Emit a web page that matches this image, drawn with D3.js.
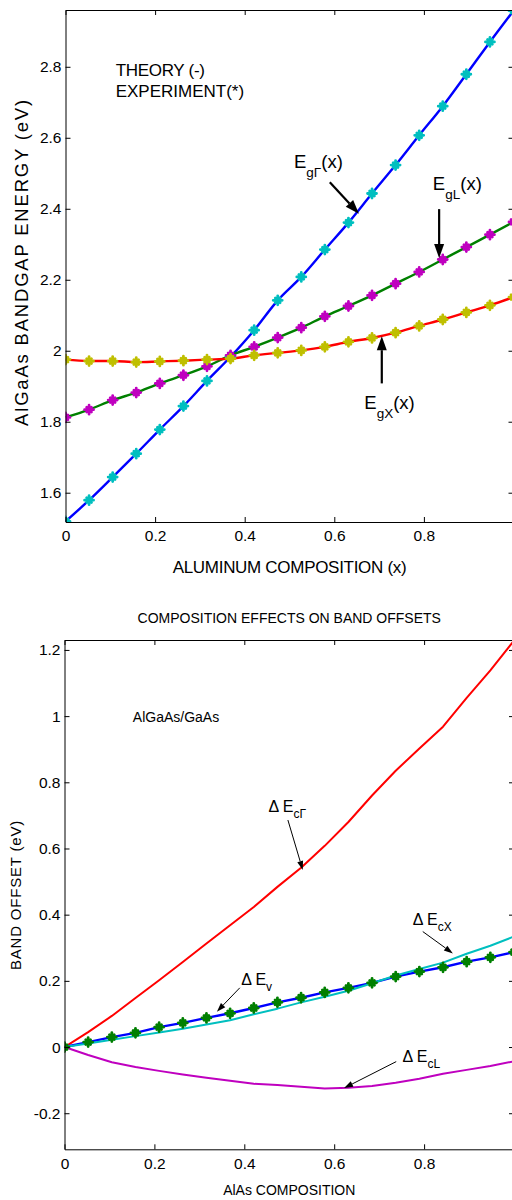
<!DOCTYPE html>
<html>
<head>
<meta charset="utf-8">
<script src="https://cdn.jsdelivr.net/npm/d3@7/dist/d3.min.js"></script>
<style>
    body { margin: 0; background: #fff; }
    svg { display: block; font-family: "Liberation Sans", Arial, sans-serif; }
</style>
</head>
<body>
<script>
// Al fraction at which theory and experiment were sampled (k/19)
let composition = [0, 0.0526, 0.1053, 0.1579, 0.2105, 0.2632, 0.3158, 0.3684, 0.4211, 0.4737,
                   0.5263, 0.5789, 0.6316, 0.6842, 0.7368, 0.7895, 0.8421, 0.8947, 0.9474, 1];

// top panel: bandgaps (eV)
let egGamma = [1.519, 1.579, 1.644, 1.710, 1.778, 1.844, 1.915, 1.983, 2.058, 2.142,
               2.208, 2.285, 2.361, 2.443, 2.523, 2.607, 2.689, 2.779, 2.870, 2.958];
let egL = [1.812, 1.834, 1.861, 1.882, 1.908, 1.931, 1.956, 1.987, 2.011, 2.037,
           2.065, 2.097, 2.126, 2.156, 2.189, 2.222, 2.257, 2.292, 2.327, 2.363];
let egX = [1.975, 1.971, 1.971, 1.968, 1.970, 1.972, 1.975, 1.978, 1.987, 1.994,
           2.001, 2.011, 2.025, 2.036, 2.051, 2.070, 2.088, 2.108, 2.128, 2.151];

// bottom panel: band offsets (eV)
let dEcGamma = [0, 0.045, 0.094, 0.148, 0.202, 0.257, 0.313, 0.368, 0.423, 0.484,
                0.542, 0.608, 0.680, 0.760, 0.835, 0.902, 0.968, 1.055, 1.138, 1.228];
let dEcX = [0, 0.011, 0.022, 0.033, 0.044, 0.055, 0.068, 0.081, 0.099, 0.116,
            0.135, 0.152, 0.170, 0.193, 0.216, 0.236, 0.255, 0.282, 0.306, 0.334];
let dEcL = [0, -0.024, -0.046, -0.060, -0.072, -0.083, -0.093, -0.102, -0.111, -0.115,
            -0.120, -0.125, -0.123, -0.118, -0.108, -0.096, -0.081, -0.069, -0.057, -0.043];
let dEv = [0, 0.015, 0.030, 0.043, 0.060, 0.073, 0.088, 0.102, 0.118, 0.135,
           0.149, 0.165, 0.179, 0.194, 0.213, 0.228, 0.241, 0.258, 0.271, 0.287];

let compTicks = [0, 0.2, 0.4, 0.6, 0.8];
let bandgapTicks = [1.6, 1.8, 2, 2.2, 2.4, 2.6, 2.8];
let offsetTicks = [-0.2, 0, 0.2, 0.4, 0.6, 0.8, 1, 1.2];

(function() {
    'use strict';

    let width = 512;
    let height = 1200;
    let tickFont = 15.5;

    let svg = d3.select("body").append("svg")
        .attr("width", width)
        .attr("height", height);

    // fat '*' marker: long plus arms, short diagonals
    let starPath = "M-4.5,0H4.5M0,-4.5V4.5M-2.4,-2.4L2.4,2.4M-2.4,2.4L2.4,-2.4";

    function fmt(d) { return String(+d.toFixed(1)); }

    function styleAxis(g, size) {
        g.attr("font-size", null).attr("font-family", null);
        g.selectAll("text").attr("font-size", size).attr("fill", "#000");
        g.selectAll("line, path").attr("stroke", "#000");
    }

    function drawFrame(g, x, y, yTicks, xPad) {
        let [x0, x1] = x.range();
        let [y0, y1] = y.range();

        g.append("g").attr("transform", "translate(0," + y0 + ")")
            .call(d3.axisBottom(x).tickValues(compTicks).tickSizeInner(-5).tickSizeOuter(0)
                  .tickPadding(xPad).tickFormat(fmt))
            .call(styleAxis, tickFont);
        g.append("g").attr("transform", "translate(0," + y1 + ")")
            .call(d3.axisTop(x).tickValues(compTicks).tickSizeInner(-5).tickSizeOuter(0).tickFormat(""))
            .call(styleAxis, tickFont);
        g.append("g").attr("transform", "translate(" + x0 + ",0)")
            .call(d3.axisLeft(y).tickValues(yTicks).tickSizeInner(-5).tickSizeOuter(0)
                  .tickPadding(4).tickFormat(fmt))
            .call(styleAxis, tickFont);
        g.append("g").attr("transform", "translate(" + x1 + ",0)")
            .call(d3.axisRight(y).tickValues(yTicks).tickSizeInner(-5).tickSizeOuter(0).tickFormat(""))
            .call(styleAxis, tickFont);
    }

    function addClip(id, x, y) {
        let [x0, x1] = x.range();
        let [y0, y1] = y.range();
        svg.append("clipPath").attr("id", id)
            .append("rect")
            .attr("x", x0).attr("y", y1)
            .attr("width", x1 - x0).attr("height", y0 - y1);
    }

    function drawLine(g, x, y, values, color, w, curve) {
        let line = d3.line()
            .x(function(d, i) { return x(composition[i]); })
            .y(function(d) { return y(d); })
            .curve(curve);
        g.append("path")
            .datum(values)
            .attr("d", line)
            .attr("fill", "none")
            .attr("stroke", color)
            .attr("stroke-width", w)
            .attr("stroke-linejoin", "round");
    }

    function drawStars(g, x, y, values, color) {
        g.append("g").selectAll("path")
            .data(values)
            .enter()
            .append("path")
            .attr("transform", function(d, i) {
                return "translate(" + x(composition[i]) + "," + y(d) + ")";
            })
            .attr("d", starPath)
            .attr("fill", "none")
            .attr("stroke", color)
            .attr("stroke-width", 2.8)
            .attr("stroke-linecap", "round");
    }

    function arrow(g, xa, ya, xb, yb, w, headLen, headW) {
        let dx = xb - xa, dy = yb - ya;
        let len = Math.sqrt(dx * dx + dy * dy);
        let ux = dx / len, uy = dy / len;
        let bx = xb - ux * headLen, by = yb - uy * headLen;
        g.append("line")
            .attr("x1", xa).attr("y1", ya)
            .attr("x2", bx).attr("y2", by)
            .attr("stroke", "#000").attr("stroke-width", w);
        g.append("path")
            .attr("d", "M" + xb + "," + yb +
                       "L" + (bx - uy * headW / 2) + "," + (by + ux * headW / 2) +
                       "L" + (bx + uy * headW / 2) + "," + (by - ux * headW / 2) + "Z")
            .attr("fill", "#000");
    }

    // label like E_sub(x) or Δ E_sub
    function subLabel(g, px, py, main, sub, tail, size, subSize, drop) {
        let t = g.append("text")
            .attr("x", px).attr("y", py)
            .attr("font-size", size)
            .attr("fill", "#000");
        t.append("tspan").text(main);
        t.append("tspan").attr("font-size", subSize).attr("dy", drop).text(sub);
        if (tail) t.append("tspan").attr("dy", -drop).text(tail);
    }

    // ---------------- top panel ----------------
    let x1 = d3.scaleLinear().domain([0, 1]).range([65.5, 513.5]);
    let y1 = d3.scaleLinear().domain([1.5175, 2.96]).range([522, 10]);
    addClip("clipTop", x1, y1);

    let top = svg.append("g");
    let topData = top.append("g").attr("clip-path", "url(#clipTop)");
    drawLine(topData, x1, y1, egGamma, "#0000ff", 2.4, d3.curveMonotoneX);
    drawLine(topData, x1, y1, egL, "#008000", 2.4, d3.curveMonotoneX);
    drawLine(topData, x1, y1, egX, "#ff0000", 2.4, d3.curveMonotoneX);
    drawStars(topData, x1, y1, egGamma, "#00bfbf");
    drawStars(topData, x1, y1, egL, "#bf00bf");
    drawStars(topData, x1, y1, egX, "#bfbf00");
    drawFrame(top, x1, y1, bandgapTicks, 7.5);

    top.append("text").attr("x", x1(0.112)).attr("y", y1(2.773))
        .attr("font-size", 17).attr("letter-spacing", -0.3).text("THEORY (-)");
    top.append("text").attr("x", x1(0.112)).attr("y", y1(2.714))
        .attr("font-size", 17).text("EXPERIMENT(*)");

    subLabel(top, x1(0.510), y1(2.514), "E", "gΓ", "(x)", 18.5, 13.5, 9);
    arrow(top, x1(0.590), y1(2.475), x1(0.655), y1(2.386), 2.2, 14, 10);
    subLabel(top, x1(0.820), y1(2.452), "E", "gL", "(x)", 18.5, 13.5, 9);
    arrow(top, x1(0.834), y1(2.399), x1(0.834), y1(2.261), 2.2, 14, 10);
    subLabel(top, x1(0.667), y1(1.835), "E", "gX", "(x)", 18.5, 13.5, 9);
    arrow(top, x1(0.706), y1(1.908), x1(0.706), y1(2.041), 2.2, 14, 10);

    top.append("text")
        .attr("x", (65.5 + 513.5) / 2).attr("y", 573)
        .attr("text-anchor", "middle")
        .attr("font-size", 17).attr("letter-spacing", -0.3)
        .text("ALUMINUM COMPOSITION (x)");
    top.append("text")
        .attr("transform", "translate(28," + 262 + ")rotate(-90)")
        .attr("text-anchor", "middle")
        .attr("font-size", 18.5).attr("letter-spacing", 1.8)
        .text("AlGaAs BANDGAP ENERGY (eV)");

    // ---------------- bottom panel ----------------
    let x2 = d3.scaleLinear().domain([0, 1]).range([64.5, 514]);
    let y2 = d3.scaleLinear().domain([-0.309, 1.23]).range([1149.3, 640]);
    addClip("clipBottom", x2, y2);

    let bot = svg.append("g");
    let botData = bot.append("g").attr("clip-path", "url(#clipBottom)");
    drawLine(botData, x2, y2, dEcGamma, "#ff0000", 2, d3.curveLinear);
    drawLine(botData, x2, y2, dEv, "#0000ff", 2.4, d3.curveLinear);
    drawLine(botData, x2, y2, dEcX, "#00bfbf", 2, d3.curveLinear);
    drawLine(botData, x2, y2, dEcL, "#bf00bf", 2, d3.curveLinear);
    drawStars(botData, x2, y2, dEv, "#007f00");
    drawFrame(bot, x2, y2, offsetTicks, 9);

    bot.append("text")
        .attr("x", (64.5 + 514) / 2).attr("y", 623)
        .attr("text-anchor", "middle").attr("font-size", 14)
        .text("COMPOSITION EFFECTS ON BAND OFFSETS");
    bot.append("text").attr("x", x2(0.152)).attr("y", y2(0.982))
        .attr("font-size", 14).text("AlGaAs/GaAs");

    subLabel(bot, x2(0.454), y2(0.710), "Δ E", "cΓ", null, 16, 12, 6);
    arrow(bot, x2(0.497), y2(0.686), x2(0.530), y2(0.535), 1, 9, 6);
    subLabel(bot, x2(0.393), y2(0.188), "Δ E", "v", null, 16, 12, 6);
    arrow(bot, x2(0.390), y2(0.179), x2(0.339), y2(0.107), 1, 9, 6);
    subLabel(bot, x2(0.775), y2(0.369), "Δ E", "cX", null, 16, 12, 6);
    arrow(bot, x2(0.797), y2(0.349), x2(0.864), y2(0.283), 1, 9, 6);
    subLabel(bot, x2(0.752), y2(-0.045), "Δ E", "cL", null, 16, 12, 6);
    arrow(bot, x2(0.738), y2(-0.044), x2(0.622), y2(-0.124), 1, 9, 6);

    bot.append("text")
        .attr("x", (64.5 + 514) / 2).attr("y", 1195)
        .attr("text-anchor", "middle").attr("font-size", 14)
        .text("AlAs COMPOSITION");
    bot.append("text")
        .attr("transform", "translate(21," + 895 + ")rotate(-90)")
        .attr("text-anchor", "middle")
        .attr("font-size", 15).attr("letter-spacing", 0.8)
        .text("BAND OFFSET (eV)");
})();
</script>
</body>
</html>
